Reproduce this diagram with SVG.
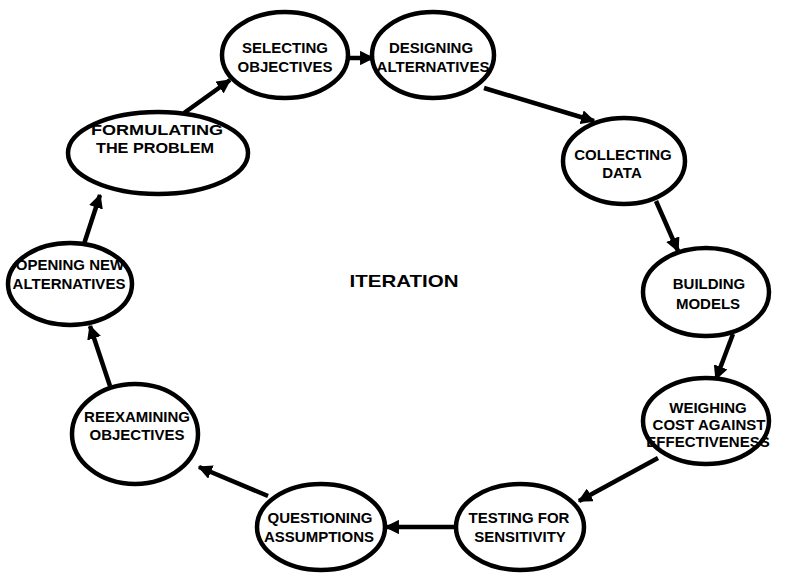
<svg xmlns="http://www.w3.org/2000/svg" width="809" height="583" viewBox="0 0 809 583">
<defs>
<style>
.n ellipse{fill:#fff;stroke:#000;stroke-width:4.5}
.n text,.c text{font-family:"Liberation Sans",Arial,sans-serif;font-weight:bold;font-size:15px;text-anchor:middle;fill:#000}
.c line{stroke:#000;stroke-width:4.5}
.c text{font-size:17px;font-weight:900}
</style>
<marker id="ah" viewBox="0 0 10 10" refX="9" refY="5" markerWidth="3.2" markerHeight="3.2" orient="auto" markerUnits="strokeWidth">
<path d="M0,0 L10,5 L0,10 z" fill="#000"/>
</marker>
</defs>
<rect width="809" height="583" fill="#fff"/>
<g id="connectors" class="c">
<line x1="184" y1="113" x2="230" y2="80" marker-end="url(#ah)"/>
<line x1="348" y1="58" x2="373" y2="58" marker-end="url(#ah)"/>
<line x1="484" y1="88" x2="594" y2="121" marker-end="url(#ah)"/>
<line x1="656" y1="201" x2="678" y2="251" marker-end="url(#ah)"/>
<line x1="733" y1="334" x2="716" y2="379" marker-end="url(#ah)"/>
<line x1="658" y1="458" x2="579" y2="501" marker-end="url(#ah)"/>
<line x1="456" y1="527" x2="386" y2="527" marker-end="url(#ah)"/>
<line x1="268" y1="496" x2="199" y2="467" marker-end="url(#ah)"/>
<line x1="110" y1="386" x2="90" y2="326" marker-end="url(#ah)"/>
<line x1="84" y1="244" x2="100" y2="195" marker-end="url(#ah)"/>
<text x="404" y="287" textLength="109" lengthAdjust="spacingAndGlyphs">ITERATION</text>
</g>
<g id="formulating" class="n"><ellipse cx="158" cy="153" rx="90" ry="41"/><text x="157" y="135" textLength="132" lengthAdjust="spacingAndGlyphs">FORMULATING</text><text x="155" y="153" textLength="118" lengthAdjust="spacingAndGlyphs">THE PROBLEM</text></g>
<g id="selecting" class="n"><ellipse cx="285" cy="55" rx="63" ry="43"/><text x="285" y="53">SELECTING</text><text x="285" y="72">OBJECTIVES</text></g>
<g id="designing" class="n"><ellipse cx="433" cy="55" rx="61" ry="43"/><text x="431" y="53">DESIGNING</text><text x="433" y="72">ALTERNATIVES</text></g>
<g id="collecting" class="n"><ellipse cx="624" cy="161" rx="61" ry="43"/><text x="623" y="160">COLLECTING</text><text x="622" y="178">DATA</text></g>
<g id="building" class="n"><ellipse cx="706" cy="292" rx="63" ry="44"/><text x="709" y="289">BUILDING</text><text x="708" y="309">MODELS</text></g>
<g id="weighing" class="n"><ellipse cx="706" cy="421" rx="63" ry="43"/><text x="708" y="413">WEIGHING</text><text x="709" y="430">COST AGAINST</text><text x="708" y="447">EFFECTIVENESS</text></g>
<g id="testing" class="n"><ellipse cx="520" cy="527" rx="64" ry="43"/><text x="519" y="523">TESTING FOR</text><text x="520" y="542">SENSITIVITY</text></g>
<g id="questioning" class="n"><ellipse cx="321" cy="527" rx="64" ry="43"/><text x="320" y="523">QUESTIONING</text><text x="319" y="542">ASSUMPTIONS</text></g>
<g id="reexamining" class="n"><ellipse cx="135" cy="434" rx="63" ry="50"/><text x="137" y="422">REEXAMINING</text><text x="137" y="440">OBJECTIVES</text></g>
<g id="opening" class="n"><ellipse cx="70" cy="284" rx="62" ry="41"/><text x="70" y="270">OPENING NEW</text><text x="69" y="289">ALTERNATIVES</text></g>
</svg>
